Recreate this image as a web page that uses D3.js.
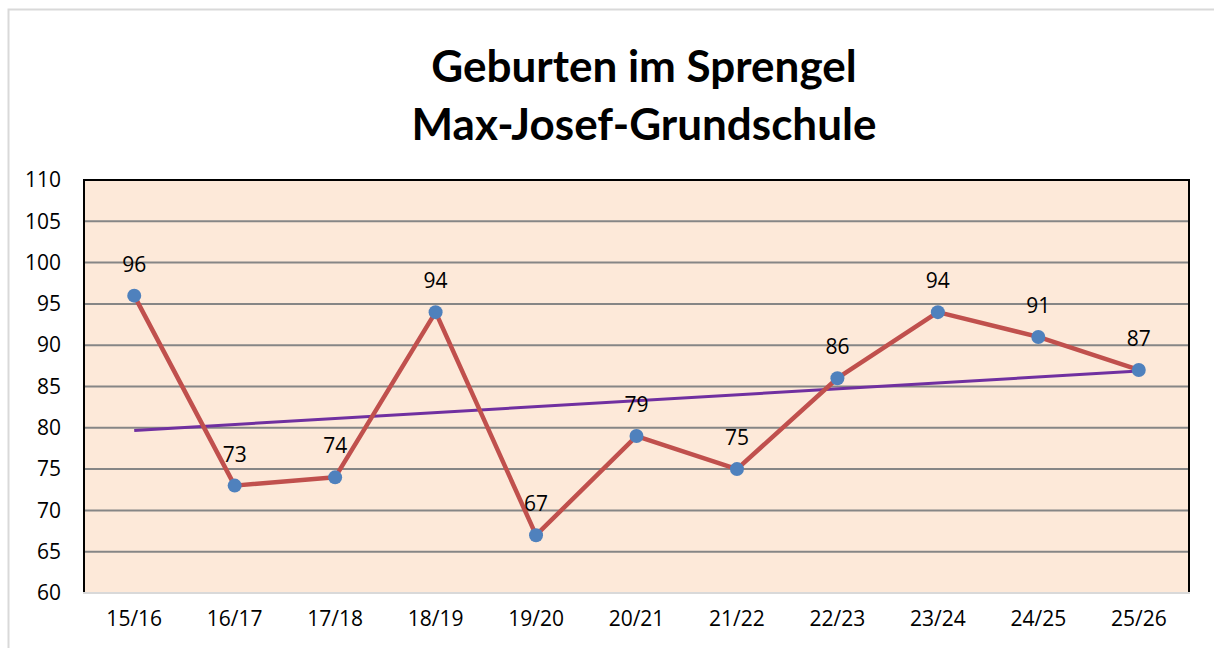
<!DOCTYPE html>
<html>
<head>
<meta charset="utf-8">
<script src="https://cdn.jsdelivr.net/npm/d3@7"></script>
<style>
  html, body { margin: 0; padding: 0; background: #ffffff; }
  svg { display: block; }
  text { font-family: "Open Sans", Lato, sans-serif; fill: #000; }
</style>
</head>
<body>
<svg id="chart" width="1214" height="648"></svg>
<script>
const titleLines = ["Geburten im Sprengel", "Max-Josef-Grundschule"];
const categories = ["15/16", "16/17", "17/18", "18/19", "19/20", "20/21", "21/22", "22/23", "23/24", "24/25", "25/26"];
const births = [96, 73, 74, 94, 67, 79, 75, 86, 94, 91, 87];
const yTicks = [60, 65, 70, 75, 80, 85, 90, 95, 100, 105, 110];

const svg = d3.select("#chart");
const W = 1214, H = 648;
const plot = { left: 84, right: 1189, top: 180, bottom: 593 };

// outer chart frame
svg.append("path")
  .attr("d", `M8.5,${H} V9.5 H${W}`)
  .attr("fill", "none").attr("stroke", "#d9d9d9").attr("stroke-width", 2);

const x = d3.scaleBand().domain(categories).range([plot.left, plot.right]).padding(0);
const y = d3.scaleLinear().domain([60, 110]).range([plot.bottom, plot.top]);
const cx = d => x(d) + x.bandwidth() / 2;

// plot background
svg.append("rect")
  .attr("x", plot.left).attr("y", plot.top)
  .attr("width", plot.right - plot.left).attr("height", plot.bottom - plot.top)
  .attr("fill", "#fde9d9");

// gridlines
svg.append("g").selectAll("line")
  .data(yTicks.filter(t => t > 60 && t < 110))
  .join("line")
  .attr("x1", plot.left).attr("x2", plot.right)
  .attr("y1", d => y(d)).attr("y2", d => y(d))
  .attr("stroke", "#868686").attr("stroke-width", 2);

// plot border
svg.append("path")
  .attr("d", `M${plot.left},${plot.bottom} V${plot.top} H${plot.right} V${plot.bottom}`)
  .attr("fill", "none").attr("stroke", "#000").attr("stroke-width", 2);
svg.append("line")
  .attr("x1", plot.left - 1).attr("x2", plot.right + 1)
  .attr("y1", plot.bottom).attr("y2", plot.bottom)
  .attr("stroke", "#d9d9d9").attr("stroke-width", 2);

const numFont = "'Open Sans', sans-serif";

// y axis labels
const yAxis = d3.axisLeft(y).tickValues(yTicks).tickSize(0).tickPadding(0);
const gy = svg.append("g").attr("transform", `translate(61,0)`).call(yAxis);
gy.select(".domain").remove();
gy.selectAll("text").style("font-size", "21px").style("font-family", numFont).attr("fill", "#000");

// x axis labels
const xAxis = d3.axisBottom(x).tickSize(0).tickPadding(0);
const gx = svg.append("g").attr("transform", `translate(0,611)`).call(xAxis);
gx.select(".domain").remove();
gx.selectAll("text").style("font-size", "21px").style("font-family", numFont).attr("fill", "#000");

// trend line (linear regression of the series)
const n = births.length;
const xs = d3.range(n);
const mx = d3.mean(xs), my = d3.mean(births);
const slope = d3.sum(xs, i => (i - mx) * (births[i] - my)) / d3.sum(xs, i => (i - mx) ** 2);
const intercept = my - slope * mx;
svg.append("line")
  .attr("x1", cx(categories[0])).attr("y1", y(intercept))
  .attr("x2", cx(categories[n - 1])).attr("y2", y(intercept + slope * (n - 1)))
  .attr("stroke", "#7030a0").attr("stroke-width", 3);

// data line
const line = d3.line().x((d, i) => cx(categories[i])).y(d => y(d));
svg.append("path").datum(births)
  .attr("d", line)
  .attr("fill", "none").attr("stroke", "#c0504d").attr("stroke-width", 4.5)
  .attr("stroke-linejoin", "round");

// markers
svg.append("g").selectAll("circle").data(births).join("circle")
  .attr("cx", (d, i) => cx(categories[i])).attr("cy", d => y(d))
  .attr("r", 7).attr("fill", "#4f81bd");

// data labels
svg.append("g").selectAll("text").data(births).join("text")
  .attr("x", (d, i) => cx(categories[i])).attr("y", d => y(d) - 24)
  .attr("text-anchor", "middle")
  .style("font-size", "21px").style("font-family", numFont)
  .text(d => d);

// title
svg.append("g").selectAll("text").data(titleLines).join("text")
  .attr("x", 644).attr("y", (d, i) => 82 + i * 58)
  .attr("text-anchor", "middle")
  .style("font-size", "44px").style("font-weight", "bold").style("font-family", "Lato, sans-serif")
  .text(d => d);
</script>
</body>
</html>
